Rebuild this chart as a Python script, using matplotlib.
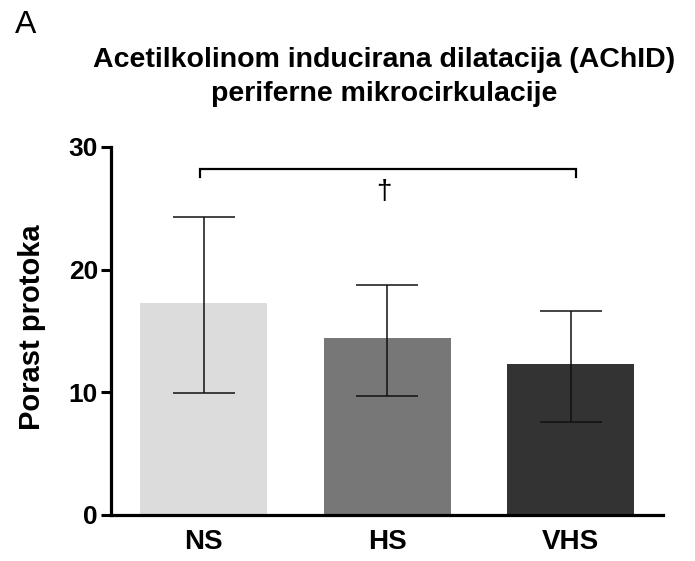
import matplotlib
matplotlib.use("Agg")
import matplotlib.pyplot as plt
import numpy as np

categories = ["NS", "HS", "VHS"]
means = [17.3, 14.45, 12.3]
upper = [24.27, 18.75, 16.65]
lower = [9.97, 9.73, 7.56]
colors = ["#dcdcdc", "#777777", "#333333"]
yticks = [0, 10, 20, 30]

plt.rcParams['font.family'] = ['Liberation Sans', 'DejaVu Sans']

W, H = 695, 561
fig = plt.figure(figsize=(6.95, 5.61), dpi=100)
ax = fig.add_axes([0.160, 0.082, 0.794, 0.656])

x = np.arange(len(categories))
yerr = [np.array(means) - np.array(lower), np.array(upper) - np.array(means)]
ax.bar(x, means, width=0.692, color=colors, zorder=1)
ax.errorbar(x, means, yerr=yerr, fmt='none', ecolor='#111111', elinewidth=1.1,
            capsize=22, capthick=1.1, zorder=2)

ax.set_xlim(-0.504, 2.504)
ax.set_ylim(0, 30)
ax.set_yticks(yticks)
ax.set_xticks(x)
ax.set_xticklabels(categories, fontsize=20, fontweight='bold')
ax.set_yticklabels([str(t) for t in yticks], fontsize=19, fontweight='bold')
ax.tick_params(axis='x', length=0, pad=10)
ax.tick_params(axis='y', length=7.5, width=2.2, pad=2)
for s in ['top', 'right']:
    ax.spines[s].set_visible(False)
for s in ['left', 'bottom']:
    ax.spines[s].set_linewidth(2.3)

fig.text(32 / W, 1 - 327 / H, "Porast protoka", rotation=90, ha='center', va='center',
         fontsize=21, fontweight='bold')

# significance bracket
bx0, bx1, by, bdrop = -0.02, 2.03, 28.2, 0.65
ax.plot([bx0, bx0, bx1, bx1], [by - bdrop, by, by, by - bdrop], color='black', lw=1.6,
        clip_on=False, solid_joinstyle='miter')
ax.text(0.985, 26.3, "†", ha='center', va='center', fontsize=20)

fig.text(384 / W, 1 - 67 / H, "Acetilkolinom inducirana dilatacija (AChID)",
         ha='center', va='baseline', fontsize=20.5, fontweight='bold')
fig.text(384 / W, 1 - 101 / H, "periferne mikrocirkulacije",
         ha='center', va='baseline', fontsize=20.5, fontweight='bold')
fig.text(15 / W, 1 - 33 / H, "A", ha='left', va='baseline', fontsize=23)

fig.savefig("out.png", dpi=100)
